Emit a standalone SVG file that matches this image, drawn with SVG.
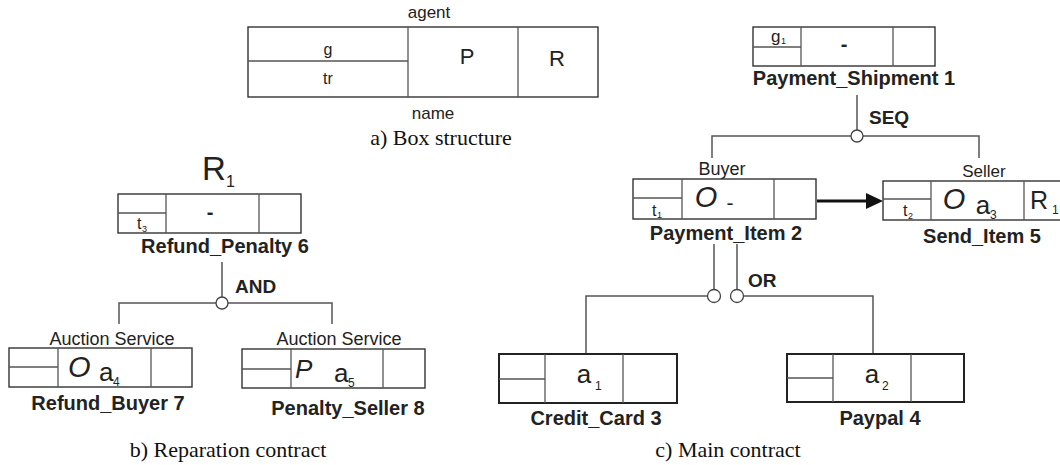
<svg xmlns="http://www.w3.org/2000/svg" width="1060" height="465" viewBox="0 0 1060 465">
<style>
  .bx{fill:#fff;stroke:#333;stroke-width:1.4}
  .bx2{fill:#fff;stroke:#222;stroke-width:2}
  .dv{stroke:#555;stroke-width:1.3;fill:none}
  .cn{stroke:#555;stroke-width:1.5;fill:none}
  .jn{fill:#fff;stroke:#444;stroke-width:1.3}
  text{font-family:"Liberation Sans",Arial,sans-serif;fill:#222}
  .lb{font-size:17px}
  .nm{font-size:20px;font-weight:bold;text-anchor:middle}
  .op{font-size:19px;font-weight:bold}
  .cap{font-family:"Liberation Serif","Times New Roman",serif;font-size:22px;text-anchor:middle;fill:#111}
  .mid{text-anchor:middle}
  .it{font-style:italic;font-size:29px}
  .act{font-size:26px}
  .sub{font-size:12px}
  .t{font-size:16px}
  .sm{font-size:9px}
</style>

<!-- a) Box structure -->
<g id="box-structure">
  <rect class="bx" x="248" y="27" width="350" height="70"/>
  <line class="dv" x1="408" y1="27" x2="408" y2="97"/>
  <line class="dv" x1="518" y1="27" x2="518" y2="97"/>
  <line class="dv" x1="248" y1="61" x2="408" y2="61"/>
  <text class="lb mid" x="429" y="18">agent</text>
  <text class="mid" x="328" y="55" font-size="16">g</text>
  <text class="mid" x="328" y="84" font-size="16">tr</text>
  <text class="mid" x="467" y="64" font-size="22">P</text>
  <text class="mid" x="557" y="66" font-size="22">R</text>
  <text class="lb mid" x="433" y="119">name</text>
  <text class="cap" x="441" y="145">a) Box structure</text>
</g>

<!-- connectors -->
<g id="connectors">
  <!-- AND -->
  <line class="cn" x1="222" y1="262" x2="222" y2="297"/>
  <polyline class="cn" points="119,324 119,303 332,303 332,324"/>
  <circle class="jn" cx="222" cy="303" r="6"/>
  <!-- SEQ -->
  <line class="cn" x1="857" y1="95" x2="857" y2="130"/>
  <polyline class="cn" points="712,158 712,136 979,136 979,158"/>
  <circle class="jn" cx="857" cy="136" r="6"/>
  <!-- OR -->
  <line class="cn" x1="714" y1="244" x2="714" y2="290"/>
  <line class="cn" x1="737" y1="244" x2="737" y2="290"/>
  <polyline class="cn" points="586,354 586,296 708,296"/>
  <polyline class="cn" points="743,296 873,296 873,354"/>
  <circle class="jn" cx="714" cy="296" r="6.5"/>
  <circle class="jn" cx="737" cy="296" r="6.5"/>
  <!-- arrow -->
  <line x1="817" y1="201" x2="868" y2="201" stroke="#111" stroke-width="3"/>
  <polygon points="866,193 883,201 866,209" fill="#111"/>
</g>

<!-- b) Reparation contract -->
<g id="refund-penalty">
  <text x="202" y="180" font-size="33">R</text>
  <text x="226" y="187" font-size="16">1</text>
  <rect class="bx" x="118" y="194" width="183" height="39"/>
  <line class="dv" x1="166" y1="194" x2="166" y2="233"/>
  <line class="dv" x1="259" y1="194" x2="259" y2="233"/>
  <line class="dv" x1="118" y1="213" x2="166" y2="213"/>
  <text class="t" x="137" y="229">t</text>
  <text class="sm" x="142" y="232">3</text>
  <text class="mid" x="210" y="219" font-size="20" font-weight="bold">-</text>
  <text class="nm" x="225" y="253">Refund_Penalty 6</text>
  <text class="op" x="235" y="293">AND</text>
</g>

<g id="refund-buyer">
  <text class="mid" x="112" y="345" font-size="18">Auction Service</text>
  <rect class="bx" x="9" y="348" width="183" height="39"/>
  <line class="dv" x1="58" y1="348" x2="58" y2="387"/>
  <line class="dv" x1="151" y1="348" x2="151" y2="387"/>
  <line class="dv" x1="9" y1="367" x2="58" y2="367"/>
  <text class="it" x="68" y="377">O</text>
  <text class="act" x="99" y="381">a</text>
  <text class="sub" x="113" y="386">4</text>
  <text class="nm" x="108" y="410">Refund_Buyer 7</text>
</g>

<g id="penalty-seller">
  <text class="mid" x="339" y="345" font-size="18">Auction Service</text>
  <rect class="bx" x="242" y="349" width="183" height="39"/>
  <line class="dv" x1="291" y1="349" x2="291" y2="388"/>
  <line class="dv" x1="383" y1="349" x2="383" y2="388"/>
  <line class="dv" x1="242" y1="369" x2="291" y2="369"/>
  <text x="295" y="378" font-size="26" font-style="italic">P</text>
  <text class="act" x="334" y="382">a</text>
  <text class="sub" x="348" y="387">5</text>
  <text class="nm" x="348" y="415">Penalty_Seller 8</text>
</g>
<text class="cap" x="228" y="457">b) Reparation contract</text>

<!-- c) Main contract -->
<g id="payment-shipment">
  <rect class="bx" x="753" y="27" width="182" height="39"/>
  <line class="dv" x1="801" y1="27" x2="801" y2="66"/>
  <line class="dv" x1="893" y1="27" x2="893" y2="66"/>
  <line class="dv" x1="753" y1="47" x2="801" y2="47"/>
  <text x="771" y="42" font-size="17">g</text>
  <text class="sm" x="781" y="44">1</text>
  <text class="mid" x="844" y="51" font-size="20" font-weight="bold">-</text>
  <text class="nm" x="854" y="85">Payment_Shipment 1</text>
  <text class="op" x="869" y="124">SEQ</text>
</g>

<g id="payment-item">
  <text class="mid" x="722" y="175" font-size="18">Buyer</text>
  <rect class="bx" x="633" y="179" width="183" height="40"/>
  <line class="dv" x1="682" y1="179" x2="682" y2="219"/>
  <line class="dv" x1="774" y1="179" x2="774" y2="219"/>
  <line class="dv" x1="633" y1="198" x2="682" y2="198"/>
  <text class="t" x="652" y="216">t</text>
  <text class="sm" x="657" y="218">1</text>
  <text class="it mid" x="706" y="207">O</text>
  <text class="mid" x="730" y="210" font-size="21">-</text>
  <text class="nm" x="726" y="240">Payment_Item 2</text>
  <text class="op" x="748" y="287">OR</text>
</g>

<g id="send-item">
  <text class="mid" x="984" y="177" font-size="17">Seller</text>
  <rect class="bx" x="883" y="181" width="185" height="39"/>
  <line class="dv" x1="931" y1="181" x2="931" y2="220"/>
  <line class="dv" x1="1024" y1="181" x2="1024" y2="220"/>
  <line class="dv" x1="883" y1="199" x2="931" y2="199"/>
  <text class="t" x="903" y="216">t</text>
  <text class="sm" x="908" y="219">2</text>
  <text class="it mid" x="954" y="209">O</text>
  <text class="act mid" x="983" y="214">a</text>
  <text class="sub" x="990" y="219">3</text>
  <text x="1030" y="209" font-size="25">R</text>
  <text class="sub" x="1052" y="214">1</text>
  <text class="nm" x="982" y="243">Send_Item 5</text>
</g>

<g id="credit-card">
  <rect class="bx2" x="499" y="354" width="178" height="49"/>
  <line class="dv" x1="545" y1="354" x2="545" y2="403"/>
  <line class="dv" x1="623" y1="354" x2="623" y2="403"/>
  <line class="dv" x1="499" y1="379" x2="545" y2="379"/>
  <text class="act mid" x="584" y="383">a</text>
  <text class="sub" x="595" y="390">1</text>
  <text class="nm" x="596" y="425">Credit_Card 3</text>
</g>

<g id="paypal">
  <rect class="bx2" x="787" y="354" width="177" height="48"/>
  <line class="dv" x1="833" y1="354" x2="833" y2="402"/>
  <line class="dv" x1="911" y1="354" x2="911" y2="402"/>
  <line class="dv" x1="787" y1="378" x2="833" y2="378"/>
  <text class="act mid" x="872" y="383">a</text>
  <text class="sub" x="882" y="390">2</text>
  <text class="nm" x="880" y="425">Paypal 4</text>
</g>
<text class="cap" x="728" y="457">c) Main contract</text>
</svg>
